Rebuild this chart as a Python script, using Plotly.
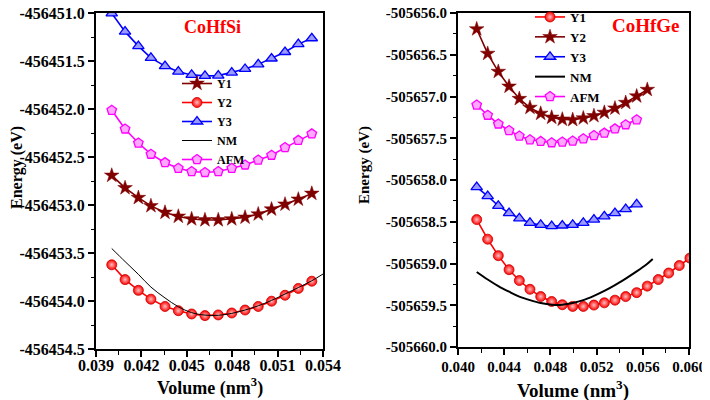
import plotly.graph_objects as go

# ---------------- CoHfSi (left panel) ----------------
si_vol = [0.04004, 0.04092, 0.04180, 0.04263, 0.04356, 0.04444, 0.04532, 0.04620,
          0.04708, 0.04797, 0.04885, 0.04972, 0.05060, 0.05149, 0.05237, 0.05326]
si_y1 = [-456452.692, -456452.822, -456452.924, -456453.009, -456453.078, -456453.119,
         -456453.146, -456453.156, -456453.156, -456453.146, -456453.129, -456453.095,
         -456453.044, -456452.993, -456452.941, -456452.880]
si_y2 = [-456453.623, -456453.777, -456453.889, -456453.981, -456454.057, -456454.101,
         -456454.135, -456454.152, -456454.145, -456454.125, -456454.094, -456454.057,
         -456454.002, -456453.940, -456453.869, -456453.794]
si_y3 = [-456451.003, -456451.194, -456451.345, -456451.468, -456451.553, -456451.611,
         -456451.645, -456451.655, -456451.652, -456451.621, -456451.583, -456451.535,
         -456451.474, -456451.406, -456451.324, -456451.263]
si_afm = [-456452.013, -456452.208, -456452.354, -456452.471, -456452.559, -456452.617,
          -456452.651, -456452.661, -456452.651, -456452.617, -456452.583, -456452.532,
          -456452.481, -456452.402, -456452.327, -456452.259]
si_nm_vol = si_vol + [0.05400]
si_nm = [-456453.453, -456453.589, -456453.722, -456453.855, -456453.968, -456454.060,
         -456454.121, -456454.147, -456454.149, -456454.129, -456454.094, -456454.050,
         -456453.994, -456453.927, -456453.860, -456453.789, -456453.719]

# ---------------- CoHfGe (right panel) ----------------
ge_vol = [0.04162, 0.04257, 0.04349, 0.04442, 0.04531, 0.04623, 0.04716, 0.04811,
          0.04903, 0.04993, 0.05085, 0.05177, 0.05267, 0.05359, 0.05452, 0.05547,
          0.05639, 0.05734, 0.05824, 0.05916, 0.06008]
ge_y1 = [-505658.474, -505658.709, -505658.906, -505659.074, -505659.204, -505659.309,
         -505659.396, -505659.455, -505659.494, -505659.514, -505659.514, -505659.498,
         -505659.471, -505659.439, -505659.396, -505659.349, -505659.271, -505659.192,
         -505659.114, -505659.024, -505658.935]
ge_y2 = [-505656.192, -505656.486, -505656.702, -505656.879, -505657.027, -505657.133,
         -505657.204, -505657.251, -505657.274, -505657.279, -505657.259, -505657.232,
         -505657.192, -505657.141, -505657.074, -505656.996, -505656.918]
ge_y3 = [-505658.086, -505658.192, -505658.309, -505658.396, -505658.459, -505658.514,
         -505658.538, -505658.553, -505658.545, -505658.538, -505658.514, -505658.474,
         -505658.435, -505658.396, -505658.349, -505658.291]
ge_afm = [-505657.102, -505657.224, -505657.329, -505657.408, -505657.474, -505657.518,
          -505657.538, -505657.553, -505657.545, -505657.533, -505657.506, -505657.467,
          -505657.439, -505657.388, -505657.338, -505657.279]
ge_nm_vol = [0.04162, 0.04257, 0.04349, 0.04442, 0.04531, 0.04623, 0.04716, 0.04811,
             0.04903, 0.04993, 0.05085, 0.05177, 0.05267, 0.05359, 0.05452, 0.05547,
             0.05634, 0.05686]
ge_nm = [-505659.102, -505659.192, -505659.271, -505659.338, -505659.396, -505659.439,
         -505659.474, -505659.494, -505659.494, -505659.474, -505659.439, -505659.388,
         -505659.329, -505659.259, -505659.180, -505659.094, -505659.008, -505658.945]

# ---------------- ticks ----------------
si_xticks = [0.039, 0.042, 0.045, 0.048, 0.051, 0.054]
si_xlabels = ["0.039", "0.042", "0.045", "0.048", "0.051", "0.054"]
si_yticks = [-456451.0, -456451.5, -456452.0, -456452.5, -456453.0, -456453.5, -456454.0, -456454.5]
si_ylabels = ["-456451.0", "-456451.5", "-456452.0", "-456452.5", "-456453.0", "-456453.5",
              "-456454.0", "-456454.5"]
ge_xticks = [0.040, 0.044, 0.048, 0.052, 0.056, 0.060]
ge_xlabels = ["0.040", "0.044", "0.048", "0.052", "0.056", "0.060"]
ge_yticks = [-505656.0, -505656.5, -505657.0, -505657.5, -505658.0, -505658.5, -505659.0,
             -505659.5, -505660.0]
ge_ylabels = ["-505656.0", "-505656.5", "-505657.0", "-505657.5", "-505658.0", "-505658.5",
              "-505659.0", "-505659.5", "-505660.0"]

FONT = "Liberation Serif"
MAROON = "#800000"
RED = "#ff0000"
BLUE = "#0000ff"
MAG = "#ff00ff"

fig = go.Figure()


def add_series(x, y, name, kind, xa, ya, leg, nm_width=1.2):
    if kind == "star":
        mk = dict(symbol="star", size=11, color=MAROON, line=dict(color=MAROON, width=0.5))
        ln = dict(color=MAROON, width=1.6)
    elif kind == "ball":
        mk = dict(symbol="circle", size=10, color=RED, line=dict(color="#cc0000", width=0.8),
                  gradient=dict(type="radial", color="#ffc0c0"))
        ln = dict(color=RED, width=1.6)
    elif kind == "tri":
        mk = dict(symbol="triangle-up", size=10, color="#9a9aff", line=dict(color=BLUE, width=1.3))
        ln = dict(color=BLUE, width=1.6)
    elif kind == "pent":
        mk = dict(symbol="pentagon", size=10, color="#ffa8ff", line=dict(color=MAG, width=1.3))
        ln = dict(color=MAG, width=1.6)
    else:
        fig.add_trace(go.Scatter(x=x, y=y, name=name, mode="lines", xaxis=xa, yaxis=ya,
                                 line=dict(color="black", width=nm_width, shape="spline"),
                                 legend=leg))
        return
    fig.add_trace(go.Scatter(x=x, y=y, name=name, mode="lines+markers", xaxis=xa, yaxis=ya,
                             marker=mk, line=ln, legend=leg))


# left panel: legend order Y1, Y2, Y3, NM, AFM
add_series(si_vol, si_y1, "Y1", "star", "x", "y", "legend")
add_series(si_vol, si_y2, "Y2", "ball", "x", "y", "legend")
add_series(si_vol, si_y3, "Y3", "tri", "x", "y", "legend")
add_series(si_nm_vol, si_nm, "NM", "nm", "x", "y", "legend", nm_width=1.0)
add_series(si_vol, si_afm, "AFM", "pent", "x", "y", "legend")

# right panel
add_series(ge_vol, ge_y1, "Y1", "ball", "x2", "y2", "legend2")
add_series(ge_vol[:17], ge_y2, "Y2", "star", "x2", "y2", "legend2")
add_series(ge_vol[:16], ge_y3, "Y3", "tri", "x2", "y2", "legend2")
add_series(ge_nm_vol, ge_nm, "NM", "nm", "x2", "y2", "legend2", nm_width=2.0)
add_series(ge_vol[:16], ge_afm, "AFM", "pent", "x2", "y2", "legend2")

# the page body adds an 8px margin; work in screen pixels and convert
OFF = 8
W, H = 710 - OFF, 400 - OFF


def px(v):
    return (v - OFF) / W


def py(v):
    return 1 - (v - OFF) / H


axis_common = dict(showline=True, linecolor="black", linewidth=2, mirror=True,
                   ticks="outside", ticklen=6, tickwidth=1.6, tickcolor="black",
                   showgrid=False, zeroline=False, automargin=False,
                   ticklabeloverflow="allow")
minor_common = dict(ticks="outside", ticklen=3.5, tickwidth=1.4, tickcolor="black")

TOP = 13

fig.update_layout(
    width=W, height=H, margin=dict(l=0, r=0, t=0, b=0, autoexpand=False),
    paper_bgcolor="white", plot_bgcolor="white",
    font=dict(family=FONT, color="black"),
    xaxis=dict(domain=[px(96), px(323)], range=[0.039, 0.054], anchor="y",
               tickmode="array", tickvals=si_xticks, ticktext=si_xlabels,
               tickfont=dict(size=16, weight="bold"), ticklabelstandoff=-5,
               minor=dict(tickvals=[0.0405, 0.0435, 0.0465, 0.0495, 0.0525], **minor_common),
               **axis_common),
    yaxis=dict(domain=[py(349), py(TOP)], range=[-456454.5, -456451.0], anchor="x",
               tickmode="array", tickvals=si_yticks, ticktext=si_ylabels,
               tickfont=dict(size=16, weight="bold"),
               minor=dict(tickvals=[-456451.25, -456451.75, -456452.25, -456452.75,
                                    -456453.25, -456453.75, -456454.25], **minor_common),
               **axis_common),
    xaxis2=dict(domain=[px(458), px(689)], range=[0.040, 0.060], anchor="y2",
                tickmode="array", tickvals=ge_xticks, ticktext=ge_xlabels,
                tickfont=dict(size=15, weight="bold"), ticklabelstandoff=-1,
                minor=dict(tickvals=[0.042, 0.046, 0.050, 0.054, 0.058], **minor_common),
                **axis_common),
    yaxis2=dict(domain=[py(347), py(TOP)], range=[-505660.0, -505656.0], anchor="x2",
                tickmode="array", tickvals=ge_yticks, ticktext=ge_ylabels,
                tickfont=dict(size=15, weight="bold"),
                minor=dict(tickvals=[-505656.25, -505656.75, -505657.25, -505657.75,
                                     -505658.25, -505658.75, -505659.25, -505659.75],
                           **minor_common),
                **axis_common),
    legend=dict(x=px(177), y=py(69), xanchor="left", yanchor="top",
                bgcolor="rgba(0,0,0,0)", font=dict(size=12, weight="bold"),
                itemwidth=30, tracegroupgap=0),
    legend2=dict(x=px(530), y=py(2), xanchor="left", yanchor="top",
                 bgcolor="rgba(0,0,0,0)", font=dict(size=13, weight="bold"),
                 itemwidth=30, tracegroupgap=0),
    annotations=[
        dict(text="CoHfSi", x=px(212), y=py(27), xref="paper", yref="paper",
             xanchor="center", yanchor="middle",
             showarrow=False, font=dict(size=18, color=RED, weight="bold")),
        dict(text="CoHfGe", x=px(646), y=py(25), xref="paper", yref="paper",
             xanchor="center", yanchor="middle",
             showarrow=False, font=dict(size=19, color=RED, weight="bold")),
        dict(text="Energy (eV)", x=px(17), y=py(168), xref="paper", yref="paper",
             xanchor="center", yanchor="middle",
             textangle=-90, showarrow=False, font=dict(size=16, weight="bold")),
        dict(text="Energy (eV)", x=px(364), y=py(165), xref="paper", yref="paper",
             xanchor="center", yanchor="middle",
             textangle=-90, showarrow=False, font=dict(size=15, weight="bold")),
        dict(text="Volume (nm<sup>3</sup>)", x=px(210), y=py(387), xref="paper", yref="paper",
             xanchor="center", yanchor="middle",
             showarrow=False, font=dict(size=18, weight="bold")),
        dict(text="Volume (nm<sup>3</sup>)", x=px(573), y=py(389), xref="paper", yref="paper",
             xanchor="center", yanchor="middle",
             showarrow=False, font=dict(size=19, weight="bold")),
    ],
)

fig.write_html("out.html")
